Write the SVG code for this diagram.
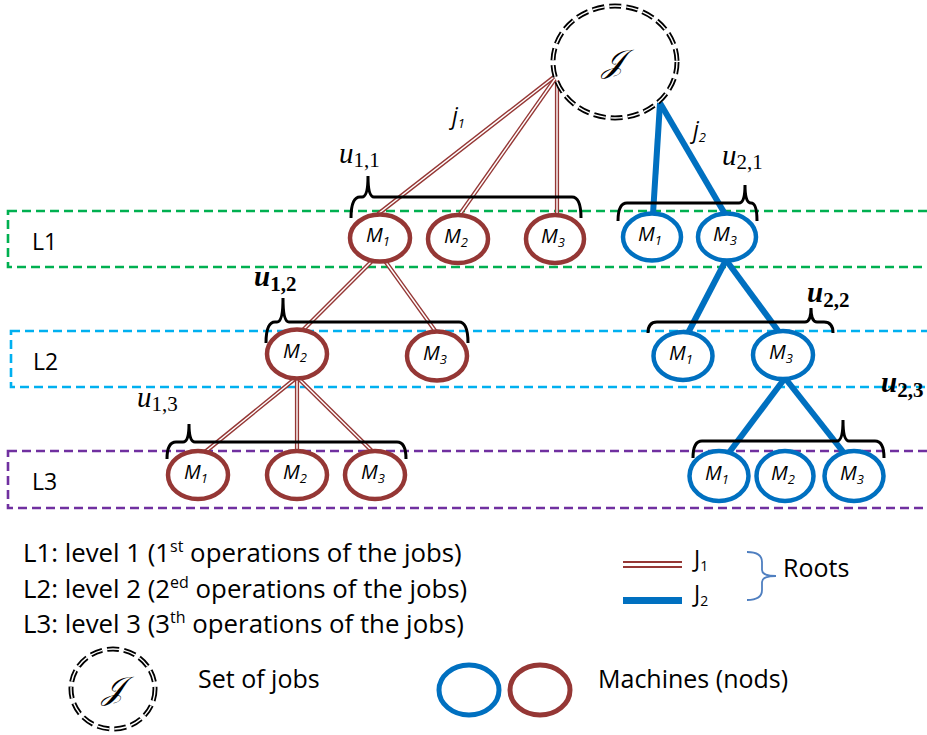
<svg xmlns="http://www.w3.org/2000/svg" xmlns:xlink="http://www.w3.org/1999/xlink" width="927" height="735" viewBox="0 0 927 735">
<style>
.lvl{fill:none;stroke-width:2.6;stroke-dasharray:9 5}
.nr{fill:#fff;stroke:#953735;stroke-width:4.5}
.nb{fill:#fff;stroke:#0070C0;stroke-width:4.5}
.ml{font-family:"Open Sans",sans-serif;font-style:italic;font-size:20px;text-anchor:middle;fill:#000}
.sb{font-size:13px}
.r1{stroke:#953735;stroke-width:4.2;fill:none}
.r2{stroke:#fff;stroke-width:1.4;fill:none}
.bl{stroke:#0070C0;stroke-width:6;fill:none}
.br{fill:none;stroke:#000;stroke-width:3}
.u{font-family:"Liberation Serif",serif;font-style:italic;font-size:29px;fill:#000}
.us{font-style:normal;font-size:21px}
.ub{font-weight:bold}
.txt{font-family:"Open Sans",sans-serif;font-size:25px;fill:#000}
.leg{font-family:"Open Sans",sans-serif;font-size:25.8px;fill:#000}
.lab{font-family:"Open Sans",sans-serif;font-size:23px;fill:#000}
.jd1{fill:none;stroke:#000;stroke-width:5;stroke-dasharray:12 5}
.jd2{fill:none;stroke:#fff;stroke-width:1.4;stroke-dasharray:12 5}
.jl{font-family:"Open Sans",sans-serif;font-style:italic;font-size:23px;fill:#000}
.scr{font-family:"DejaVu Serif","Liberation Serif",serif;font-style:italic;font-size:32px;text-anchor:middle;fill:#000}
</style>
<defs>
<g id="redLines">
<line x1="554" y1="77" x2="378" y2="214"/>
<line x1="555" y1="79" x2="460" y2="214"/>
<line x1="557" y1="80" x2="557" y2="215"/>
<line x1="372" y1="261" x2="302" y2="331"/>
<line x1="385" y1="261" x2="436" y2="332"/>
<line x1="296" y1="378" x2="205" y2="452"/>
<line x1="297" y1="378" x2="297" y2="452"/>
<line x1="298" y1="378" x2="373" y2="452"/>
</g>
</defs>

<g id="levels">
<rect class="lvl" x="8" y="211" width="940" height="56" stroke="#00B050"/>
<rect class="lvl" x="11" y="331" width="940" height="56" stroke="#00B0F0"/>
<rect class="lvl" x="8" y="451" width="940" height="57" stroke="#7030A0"/>
<text class="lab" x="32" y="250">L1</text>
<text class="lab" x="33" y="370">L2</text>
<text class="lab" x="32" y="490">L3</text>
</g>

<g id="connectors">
<use xlink:href="#redLines" class="r1"/>
<use xlink:href="#redLines" class="r2"/>
<line class="bl" x1="660" y1="103" x2="653" y2="214"/>
<line class="bl" x1="660" y1="103" x2="725" y2="214"/>
<line class="bl" x1="726" y1="260" x2="688" y2="333"/>
<line class="bl" x1="726" y1="260" x2="779" y2="332"/>
<line class="bl" x1="785" y1="378" x2="728" y2="454"/>
<line class="bl" x1="785" y1="378" x2="844" y2="453"/>
<text class="jl" x="452" y="124">j<tspan class="sb" font-size="14" dy="4">1</tspan></text>
<text class="jl" x="693" y="138">j<tspan class="sb" font-size="14" dy="4">2</tspan></text>
</g>

<g id="braces">
<path class="br" d="M351,218 Q351,197 360,197 H362 Q368,197 368,176 Q368,197 374,197 H572 Q581,197 581,218"/>
<path class="br" d="M618,221 Q618,203 627,203 H739 Q745,203 745,185 Q745,203 751,203 Q757,203 757,221"/>
<path class="br" d="M266,343 Q266,322 275,322 H277 Q283,322 283,298 Q283,322 289,322 H459 Q468,322 468,343"/>
<path class="br" d="M648,333 Q648,322 657,322 H805 Q811,322 811,308 Q811,322 817,322 H824 Q833,322 833,333"/>
<path class="br" d="M167,459 Q167,442 176,442 H183 Q189,442 189,424 Q189,442 195,442 H397 Q406,442 406,459"/>
<path class="br" d="M693,458 Q693,441 702,441 H837 Q843,441 843,420 Q843,441 849,441 H875 Q884,441 884,458"/>
<text class="u" x="339" y="163">u<tspan class="us" dy="4">1,1</tspan></text>
<text class="u" x="722" y="165">u<tspan class="us" dy="4">2,1</tspan></text>
<text class="u ub" x="254" y="286">u<tspan class="us" dy="5">1,2</tspan></text>
<text class="u" x="137" y="407">u<tspan class="us" dy="4">1,3</tspan></text>
<text class="u ub" x="807" y="302">u<tspan class="us" dy="5">2,2</tspan></text>
<text class="u ub" x="881" y="392">u<tspan class="us" dy="5">2,3</tspan></text>
</g>

<g id="setJ">
<ellipse class="jd1" cx="615" cy="62" rx="62" ry="56"/>
<ellipse class="jd2" cx="615" cy="62" rx="62" ry="56"/>
<text class="scr" x="613" y="72">𝒥</text>
</g>

<g id="L1-J1-M1"><ellipse class="nr" cx="380" cy="238" rx="30" ry="23.5"/><text class="ml" x="378" y="242">M<tspan class="sb" dy="4">1</tspan></text></g>
<g id="L1-J1-M2"><ellipse class="nr" cx="458" cy="239" rx="30" ry="24"/><text class="ml" x="456" y="243">M<tspan class="sb" dy="4">2</tspan></text></g>
<g id="L1-J1-M3"><ellipse class="nr" cx="555" cy="239" rx="29" ry="24"/><text class="ml" x="553" y="243">M<tspan class="sb" dy="4">3</tspan></text></g>
<g id="L1-J2-M1"><ellipse class="nb" cx="652" cy="237" rx="29" ry="23.5"/><text class="ml" x="650" y="241">M<tspan class="sb" dy="4">1</tspan></text></g>
<g id="L1-J2-M3"><ellipse class="nb" cx="727" cy="237" rx="29" ry="23.5"/><text class="ml" x="725" y="241">M<tspan class="sb" dy="4">3</tspan></text></g>

<g id="L2-J1-M2"><ellipse class="nr" cx="297" cy="354" rx="30" ry="24.5"/><text class="ml" x="295" y="358">M<tspan class="sb" dy="4">2</tspan></text></g>
<g id="L2-J1-M3"><ellipse class="nr" cx="437" cy="356" rx="30" ry="24.5"/><text class="ml" x="435" y="360">M<tspan class="sb" dy="4">3</tspan></text></g>
<g id="L2-J2-M1"><ellipse class="nb" cx="683" cy="356" rx="29.5" ry="24"/><text class="ml" x="681" y="360">M<tspan class="sb" dy="4">1</tspan></text></g>
<g id="L2-J2-M3"><ellipse class="nb" cx="783" cy="355" rx="30" ry="24"/><text class="ml" x="781" y="359">M<tspan class="sb" dy="4">3</tspan></text></g>

<g id="L3-J1-M1"><ellipse class="nr" cx="198" cy="475" rx="30" ry="24"/><text class="ml" x="196" y="479">M<tspan class="sb" dy="4">1</tspan></text></g>
<g id="L3-J1-M2"><ellipse class="nr" cx="297" cy="475" rx="30" ry="24"/><text class="ml" x="295" y="479">M<tspan class="sb" dy="4">2</tspan></text></g>
<g id="L3-J1-M3"><ellipse class="nr" cx="375" cy="475" rx="30" ry="24"/><text class="ml" x="373" y="479">M<tspan class="sb" dy="4">3</tspan></text></g>
<g id="L3-J2-M1"><ellipse class="nb" cx="719" cy="476" rx="29.5" ry="25"/><text class="ml" x="717" y="480">M<tspan class="sb" dy="4">1</tspan></text></g>
<g id="L3-J2-M2"><ellipse class="nb" cx="785" cy="476" rx="28.5" ry="25"/><text class="ml" x="783" y="480">M<tspan class="sb" dy="4">2</tspan></text></g>
<g id="L3-J2-M3"><ellipse class="nb" cx="854" cy="476" rx="29.5" ry="25"/><text class="ml" x="852" y="480">M<tspan class="sb" dy="4">3</tspan></text></g>

<g id="legend">
<text class="leg" x="23" y="562">L1: level 1 (1<tspan font-size="16" dy="-10">st</tspan><tspan dy="10"> operations of the jobs)</tspan></text>
<text class="leg" x="23" y="598">L2: level 2 (2<tspan font-size="16" dy="-10">ed</tspan><tspan dy="10"> operations of the jobs)</tspan></text>
<text class="leg" x="23" y="633">L3: level 3 (3<tspan font-size="16" dy="-10">th</tspan><tspan dy="10"> operations of the jobs)</tspan></text>
<line x1="623" y1="562" x2="682" y2="562" stroke="#953735" stroke-width="2"/>
<line x1="623" y1="567" x2="682" y2="567" stroke="#953735" stroke-width="2"/>
<rect x="623" y="597" width="59" height="7" fill="#0070C0"/>
<text class="lab" font-size="21" x="694" y="567">J<tspan font-size="14" dy="4">1</tspan></text>
<text class="lab" font-size="21" x="694" y="602">J<tspan font-size="14" dy="4">2</tspan></text>
<path d="M747,552 Q762,552 762,562 V570 Q762,576 776,576 Q762,576 762,582 V590 Q762,600 747,600" fill="none" stroke="#4F7FC0" stroke-width="1.8"/>
<text class="txt" x="783" y="577">Roots</text>
<ellipse class="jd1" cx="113" cy="689" rx="42" ry="40"/>
<ellipse class="jd2" cx="113" cy="689" rx="42" ry="40"/>
<text class="scr" font-size="28" x="113" y="699">𝒥</text>
<text class="txt" x="198" y="688">Set of jobs</text>
<ellipse cx="469" cy="690" rx="30" ry="25" fill="none" stroke="#0070C0" stroke-width="5"/>
<ellipse cx="540" cy="690" rx="30" ry="25" fill="none" stroke="#953735" stroke-width="5"/>
<text class="txt" x="598" y="688">Machines (nods)</text>
</g>
</svg>
